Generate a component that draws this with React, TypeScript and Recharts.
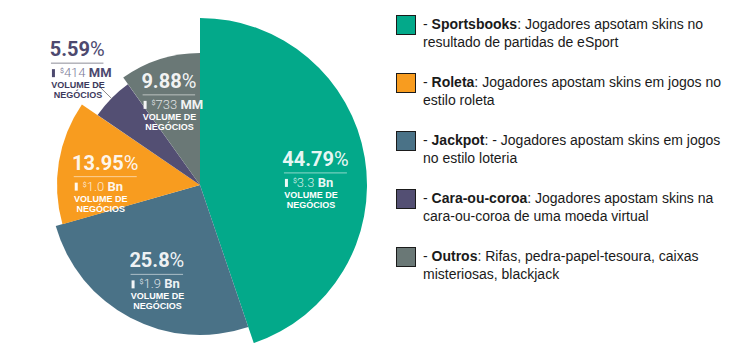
import React from 'react';
import { PieChart, Pie, Cell } from 'recharts';

// slice order, clockwise from 12 o'clock
const categories = ['Sportsbooks', 'Jackpot', 'Roleta', 'Cara-ou-coroa', 'Outros'];
const shares = [44.79, 25.8, 13.95, 5.59, 9.88];
const shareLabels = ['44.79', '25.8', '13.95', '5.59', '9.88'];
const volumeAmounts = ['3.3', '1.9', '1.0', '414', '733'];
const volumeUnits = ['Bn', 'Bn', 'Bn', 'MM', 'MM'];

// legend runs in a different order than the slices
const legendOrder = ['Sportsbooks', 'Roleta', 'Jackpot', 'Cara-ou-coroa', 'Outros'];
const legendDescriptions = [
    ['Jogadores apsotam skins no', 'resultado de partidas de eSport'],
    ['Jogadores apostam skins em jogos no', 'estilo roleta'],
    ['- Jogadores apostam skins em jogos', 'no estilo loteria'],
    ['Jogadores apostam skins na', 'cara-ou-coroa de uma moeda virtual'],
    ['Rifas, pedra-papel-tesoura, caixas', 'misteriosas, blackjack'],
];

const COLORS: Record<string, string> = {
    Sportsbooks: '#03a98a',
    Jackpot: '#4a7287',
    Roleta: '#f89c1f',
    'Cara-ou-coroa': '#534f73',
    Outros: '#6a7876',
};

// each slice has its own radius in the original
const RADIUS: Record<string, number> = {
    Sportsbooks: 167,
    Jackpot: 150,
    Roleta: 143,
    'Cara-ou-coroa': 124,
    Outros: 132,
};

// where the label block sits, relative to the slice's mid angle
const LABEL_DIST: Record<string, number> = {
    Sportsbooks: 117,
    Jackpot: 93,
    Roleta: 96,
    'Cara-ou-coroa': 178,
    Outros: 102,
};
const LABEL_TURN: Record<string, number> = {
    Sportsbooks: 0,
    Jackpot: 0,
    Roleta: 0,
    'Cara-ou-coroa': -2,
    Outros: 0,
};

const pieData = categories.map((name, i) => ({ name, value: shares[i] }));

const RADIAN = Math.PI / 180;
const NUM_FONT = 'Roboto, "Noto Sans", sans-serif';
const SMALL_FONT = '"Liberation Sans", Arial, sans-serif';

function renderLabel(p: any, i: number) {
    if (p.index !== i) return <g />;
    const name = categories[i];
    const outside = name === 'Cara-ou-coroa';
    const d = LABEL_DIST[name];
    const mid = -p.midAngle * RADIAN;
    const a = -(p.midAngle + LABEL_TURN[name]) * RADIAN;
    const ax = p.cx + d * Math.cos(a);
    const ay = p.cy + d * Math.sin(a);
    const w = (shareLabels[i].length + 1) * 10.5;
    const left = ax - w / 2;

    const main = outside ? '#4d496f' : 'rgba(255,255,255,0.93)';
    const soft = outside ? '#7a7896' : 'rgba(255,255,255,0.8)';
    const rule = outside ? '#8c8c98' : 'rgba(255,255,255,0.55)';
    const small = outside ? '#3d3a5c' : '#ffffff';

    return (
        <g>
            {outside && (
                <line
                    x1={p.cx + p.outerRadius * Math.cos(mid)}
                    y1={p.cy + p.outerRadius * Math.sin(mid)}
                    x2={p.cx + (p.outerRadius + 22) * Math.cos(mid)}
                    y2={p.cy + (p.outerRadius + 22) * Math.sin(mid)}
                    stroke="#8a8a8a"
                    strokeWidth={1}
                />
            )}
            <text x={ax} y={ay} textAnchor="middle" fontFamily={NUM_FONT} fontSize={20} fontWeight={700} fill={main}>
                {shareLabels[i]}
                <tspan fontWeight={400}>%</tspan>
            </text>
            <line x1={left} y1={ay + 7} x2={left + w} y2={ay + 7} stroke={rule} strokeWidth={1} />
            <rect x={left + 1} y={ay + 13} width={3} height={8} fill={main} />
            <text x={left + 9} y={ay + 21} fontFamily={NUM_FONT} fontSize={13} fill={soft}>
                <tspan fontSize={7} dy={-4}>$</tspan>
                <tspan dy={4} fontWeight={300}>{volumeAmounts[i]}</tspan>
                <tspan fontWeight={700} fill={main}>{' ' + volumeUnits[i]}</tspan>
            </text>
            <text x={left + 27} y={ay + 32} textAnchor="middle" fontFamily={SMALL_FONT} fontSize={9} fontWeight={700} fill={small}>
                VOLUME DE
            </text>
            <text x={left + 27} y={ay + 42} textAnchor="middle" fontFamily={SMALL_FONT} fontSize={9} fontWeight={700} fill={small}>
                NEGÓCIOS
            </text>
        </g>
    );
}

export default function App() {
    return (
        <div
            style={{
                position: 'absolute',
                left: 0,
                top: 0,
                width: 730,
                height: 360,
                background: '#fff',
                fontFamily: SMALL_FONT,
            }}
        >
            <div style={{ position: 'absolute', left: 0, top: 0 }}>
                <PieChart width={380} height={360} margin={{ top: 0, right: 0, bottom: 0, left: 0 }}>
                    {/* one Pie per slice so each slice can get its own radius */}
                    {categories.map((name, i) => (
                        <Pie
                            key={name}
                            data={pieData}
                            dataKey="value"
                            nameKey="name"
                            cx={200}
                            cy={185}
                            innerRadius={0}
                            outerRadius={RADIUS[name]}
                            startAngle={90}
                            endAngle={-270}
                            stroke="none"
                            labelLine={false}
                            label={(p: any) => renderLabel(p, i)}
                            isAnimationActive={false}
                        >
                            {pieData.map((entry, j) => (
                                <Cell key={entry.name} fill={j === i ? COLORS[entry.name] : 'none'} stroke="none" />
                            ))}
                        </Pie>
                    ))}
                </PieChart>
            </div>

            <div style={{ position: 'absolute', left: 396, top: 15 }}>
                {legendOrder.map((name) => {
                    const lines = legendDescriptions[legendOrder.indexOf(name)];
                    return (
                        <div key={name} style={{ display: 'flex', alignItems: 'flex-start', height: 58 }}>
                            <div
                                style={{
                                    width: 20,
                                    height: 20,
                                    boxSizing: 'border-box',
                                    border: '1px solid #1b1b1b',
                                    background: COLORS[name],
                                    flexShrink: 0,
                                }}
                            />
                            <div
                                style={{
                                    marginLeft: 7,
                                    fontSize: 14,
                                    lineHeight: '18px',
                                    color: '#1a1a1a',
                                    whiteSpace: 'nowrap',
                                }}
                            >
                                - <b>{name}</b>: {lines[0]}
                                <br />
                                {lines[1]}
                            </div>
                        </div>
                    );
                })}
            </div>
        </div>
    );
}
